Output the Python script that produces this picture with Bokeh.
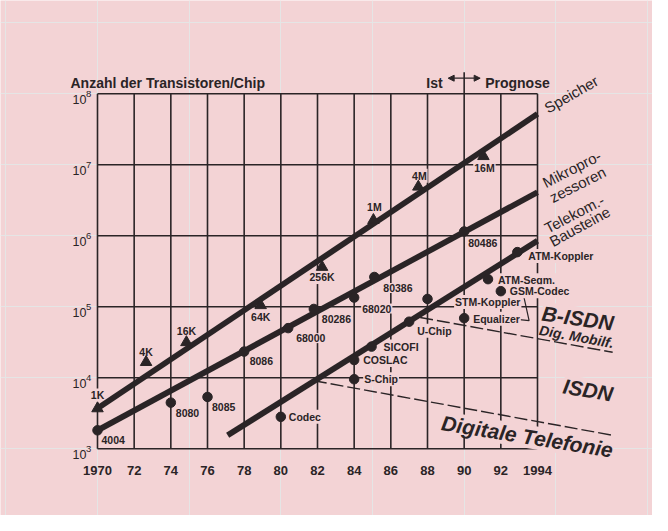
from bokeh.plotting import figure
from bokeh.models import Range1d, Arrow, NormalHead
from bokeh.core.properties import value
from bokeh.embed import file_html
from bokeh.resources import INLINE

# ---------------- data ----------------
x_ticks = [1970, 1972, 1974, 1976, 1978, 1980, 1982, 1984, 1986, 1988, 1990, 1992, 1994]
x_tick_labels = ["1970", "72", "74", "76", "78", "80", "82", "84", "86", "88", "90", "92", "1994"]
y_ticks = [1e3, 1e4, 1e5, 1e6, 1e7, 1e8]
y_tick_base = ["10", "10", "10", "10", "10", "10"]
y_tick_exp = ["3", "4", "5", "6", "7", "8"]

title_text = "Anzahl der Transistoren/Chip"
ist_text = "Ist"
prognose_text = "Prognose"
split_year = 1990

# Speicher (triangles)
mem_years = [1970, 1972.65, 1974.85, 1978.9, 1982.25, 1985.05, 1987.5, 1991.05]
mem_counts = [3700, 16600, 31600, 105000, 363000, 1660000, 4900000, 13200000]
mem_labels = ["1K", "4K", "16K", "64K", "256K", "1M", "4M", "16M"]

# Mikroprozessoren (dots)
mpu_years = [1970, 1974, 1976, 1978, 1980.4, 1981.8, 1984, 1985.1, 1990]
mpu_counts = [1820, 4470, 5370, 23400, 50100, 93300, 135000, 263000, 1150000]
mpu_labels = ["4004", "8080", "8085", "8086", "68000", "80286", "68020", "80386", "80486"]

# Telekom-Bausteine (dots)
tel_years = [1980, 1984, 1984, 1984.95, 1987, 1988, 1990, 1991.3, 1992, 1992.9]
tel_counts = [2820, 9550, 17800, 27500, 61700, 129000, 69200, 245000, 166000, 589000]
tel_labels = ["Codec", "S-Chip", "COSLAC", "SICOFI", "U-Chip", "STM-Koppler",
              "Equalizer", "ATM-Segm.", "GSM-Codec", "ATM-Koppler"]

# trend lines
mem_trend_years = [1970, 1994]
mem_trend_counts = [3700, 52000000]
mpu_trend_years = [1970, 1994]
mpu_trend_counts = [1820, 4100000]
tel_trend_years = [1977.1, 1994]
tel_trend_counts = [1550, 850000]

# region borders (dashed)
bisdn_border_years = [1987.6, 1998.1]
bisdn_border_counts = [70800, 22900]
isdn_border_years = [1981.8, 1998.1]
isdn_border_counts = [9100, 1550]

curve_labels = ["Speicher", "Mikropro-", "zessoren", "Telekom.-", "Bausteine"]
region_labels = ["B-ISDN", "Dig. Mobilf.", "ISDN", "Digitale Telefonie"]

# ---------------- layout ----------------
W, H = 652, 515
PXY = 440.0 / 24.0      # pixels per year
PXD = 71.0              # pixels per decade
ORIGIN_X, ORIGIN_Y = 97.0, 448.3   # canvas pixel of (1970, 1e3)
x_left = 1970 - ORIGIN_X / PXY
x_right = x_left + W / PXY
y_top_log = 3 + ORIGIN_Y / PXD
y_bot_log = y_top_log - H / PXD

BG = "#f3d3d5"
INK = "#2a2426"
FONT = value("Liberation Sans")


def shift(x, y, dx, dy):
    """move a data point by a pixel offset (dx right, dy down)"""
    return x + dx / PXY, y * 10 ** (-dy / PXD)


p = figure(width=W, height=H, x_range=Range1d(x_left, x_right),
           y_range=Range1d(10 ** y_bot_log, 10 ** y_top_log), y_axis_type="log",
           x_axis_location=None, y_axis_location=None,
           output_backend="svg", toolbar_location=None, min_border=0,
           background_fill_color=BG, border_fill_color=BG, outline_line_color=None)

# grid
p.segment(x0=x_ticks, y0=[y_ticks[0]] * len(x_ticks), x1=x_ticks, y1=[y_ticks[-1]] * len(x_ticks),
          line_color=INK, line_width=1.6)
p.segment(x0=[x_ticks[0]] * len(y_ticks), y0=y_ticks, x1=[x_ticks[-1]] * len(y_ticks), y1=y_ticks,
          line_color=INK, line_width=1.6)

# Ist / Prognose divider
top_x, top_y = shift(split_year, y_ticks[-1], 0, -21.5)
p.segment(x0=[split_year], y0=[y_ticks[-1]], x1=[top_x], y1=[top_y], line_color=INK, line_width=1.6)
ax0, ay = shift(split_year, y_ticks[-1], -16, -15.6)
ax1, _ = shift(split_year, y_ticks[-1], 16, -15.6)
p.add_layout(Arrow(start=NormalHead(size=6, fill_color=INK, line_color=INK),
                   end=NormalHead(size=6, fill_color=INK, line_color=INK),
                   x_start=ax0, y_start=ay, x_end=ax1, y_end=ay, line_color=INK, line_width=1.3))
p.text(x=[split_year], y=[y_ticks[-1]], text=[ist_text], x_offset=-21.5, y_offset=-11.3,
       text_align="right", text_baseline="alphabetic", text_font=FONT, text_font_size="14px",
       text_font_style="bold", text_color=INK)
p.text(x=[split_year], y=[y_ticks[-1]], text=[prognose_text], x_offset=21, y_offset=-11.3,
       text_align="left", text_baseline="alphabetic", text_font=FONT, text_font_size="14px",
       text_font_style="bold", text_color=INK)

# dashed region borders
for xs, ys in [(bisdn_border_years, bisdn_border_counts), (isdn_border_years, isdn_border_counts)]:
    p.line(xs, ys, line_color=INK, line_width=1.4, line_dash="13 4")

# bracket from STM-Koppler / Equalizer
sx, sy = tel_years[5], tel_counts[5]
b1 = shift(sx, sy, 96.6, -1)
b2 = shift(sx, sy, 101.6, 21.7)
b3 = shift(sx, sy, 92, 20.7)
p.line([b1[0], b2[0], b3[0]], [b1[1], b2[1], b3[1]], line_color=INK, line_width=1.2)

# point labels
lbl = dict(text_font=FONT, text_font_size="10.5px", text_font_style="bold", text_color=INK,
           background_fill_color=BG, padding=1)
p.text(x=mem_years, y=mem_counts, text=mem_labels,
       x_offset=[0, 0, 0, 0, 0, 1, 1, 1], y_offset=[-13, -10, -11, 12, 10, -13, -11, 12],
       text_align="center", text_baseline="middle", **lbl)
p.text(x=mpu_years, y=mpu_counts, text=mpu_labels,
       x_offset=[3, 4, 3.5, 4.5, 7, 7, 7, 8, 3], y_offset=[10, 10, 10, 9, 10, 10, 11, 11, 11.5],
       text_align="left", text_baseline="middle", **lbl)
p.text(x=tel_years, y=tel_counts, text=tel_labels,
       x_offset=[7, 9, 8, 11, 7, 26.6, 8, 9, 8, 10], y_offset=[0, 0, 0, 0, 9, 3, 0.5, 1, 0, 4],
       text_align="left", text_baseline="middle", **lbl)

# curve labels
cl_x = [mem_trend_years[-1], mpu_trend_years[-1], mpu_trend_years[-1], tel_trend_years[-1], tel_trend_years[-1]]
cl_y = [mem_trend_counts[-1], mpu_trend_counts[-1], mpu_trend_counts[-1], tel_trend_counts[-1], tel_trend_counts[-1]]
p.text(x=cl_x, y=cl_y, text=curve_labels,
       x_offset=[8, 6, 13, 8, 13], y_offset=[-5, -9, 6, -12, 1.5],
       angle=[0.52, 0.47, 0.47, 0.48, 0.5],
       text_align="left", text_baseline="alphabetic", text_font=FONT, text_font_size="15px",
       text_color=INK)

# region labels
rl_x = [bisdn_border_years[-1], bisdn_border_years[-1], isdn_border_years[-1], isdn_border_years[-1]]
rl_y = [bisdn_border_counts[-1], bisdn_border_counts[-1], isdn_border_counts[-1], isdn_border_counts[-1]]
p.text(x=rl_x, y=rl_y, text=region_labels,
       x_offset=[1, 1, 0, 0], y_offset=[-29, -9, -41, 15],
       angle=[-0.14, -0.18, -0.17, -0.16],
       text_font_size=["21px", "14px", "21px", "21px"],
       text_align="right", text_baseline="alphabetic", text_font=FONT,
       text_font_style="bold italic", text_color=INK, background_fill_color=BG, padding=0)

# trend lines
for xs, ys in [(mem_trend_years, mem_trend_counts), (mpu_trend_years, mpu_trend_counts),
               (tel_trend_years, tel_trend_counts)]:
    p.line(xs, ys, line_color=INK, line_width=5.8)

# markers
p.scatter(mem_years, mem_counts, marker="triangle", size=11.5, fill_color=INK, line_color=INK)
p.scatter(mpu_years, mpu_counts, marker="circle", size=9.5, fill_color=INK, line_color=INK)
p.scatter(tel_years, tel_counts, marker="circle", size=9.5, fill_color=INK, line_color=INK)

# tick labels
p.text(x=[x_ticks[0]] * len(y_ticks), y=y_ticks, text=y_tick_base, x_offset=-25, y_offset=5.5,
       text_align="left", text_baseline="alphabetic", text_font=FONT, text_font_size="12.5px",
       text_color=INK)
p.text(x=[x_ticks[0]] * len(y_ticks), y=y_ticks, text=y_tick_exp, x_offset=-11.5, y_offset=0.5,
       text_align="left", text_baseline="alphabetic", text_font=FONT, text_font_size="9.5px",
       text_color=INK)
p.text(x=x_ticks, y=[y_ticks[0]] * len(x_ticks), text=x_tick_labels, y_offset=21.5,
       text_align="center", text_baseline="alphabetic", text_font=FONT, text_font_size="13px",
       text_font_style="bold", text_color=INK)

# title
p.text(x=[x_ticks[0]], y=[y_ticks[-1]], text=[title_text], x_offset=-27, y_offset=-11.3,
       text_align="left", text_baseline="alphabetic", text_font=FONT, text_font_size="14px",
       text_font_style="bold", text_color=INK)

open("out.html", "w").write(file_html(p, INLINE))
